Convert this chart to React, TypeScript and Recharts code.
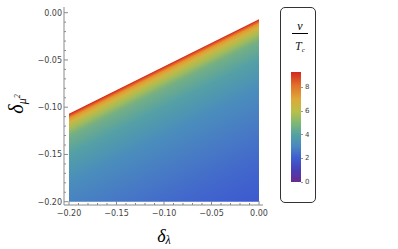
import React from "react";
import { ComposedChart, Area, XAxis, YAxis } from "recharts";

// upper edge of the region where a solution exists (delta_lambda -> delta_mu2)
const EDGE_X = [-0.2, 0.0];
const EDGE_Y = [-0.107, -0.007];
const FLOOR_Y = -0.2;

const X_TICKS = [
  -0.2, -0.19, -0.18, -0.17, -0.16, -0.15, -0.14, -0.13, -0.12, -0.11, -0.1,
  -0.09, -0.08, -0.07, -0.06, -0.05, -0.04, -0.03, -0.02, -0.01, 0,
];
const Y_TICKS = X_TICKS;
const BAR_TICKS = [0, 2, 4, 6, 8];
const BAR_MAX = 9.3;

// v/Tc colour as a function of distance from the edge
const FIELD_STOPS = [
  { o: 0, c: "#d2261f" },
  { o: 0.009, c: "#df5524" },
  { o: 0.024, c: "#e8962f" },
  { o: 0.046, c: "#cfb53f" },
  { o: 0.078, c: "#a6bc57" },
  { o: 0.12, c: "#74af84" },
  { o: 0.22, c: "#54a0a5" },
  { o: 0.38, c: "#4a8dbc" },
  { o: 0.6, c: "#4778c6" },
  { o: 0.8, c: "#4166cc" },
  { o: 1, c: "#3c59cf" },
];
const BAR_STOPS = [
  { o: 0, c: "#d2261f" },
  { o: 0.12, c: "#e2702a" },
  { o: 0.25, c: "#ddaa38" },
  { o: 0.36, c: "#b9bf48" },
  { o: 0.47, c: "#7cb778" },
  { o: 0.57, c: "#54a1a2" },
  { o: 0.68, c: "#4a86c0" },
  { o: 0.78, c: "#3e5ed0" },
  { o: 0.9, c: "#4a3cb4" },
  { o: 1, c: "#6a2a8c" },
];

const data = EDGE_X.map((x, i) => ({ x, y: EDGE_Y[i] }));

const FRAME = "#8a8a8a";
const TICK_FONT = "'DejaVu Sans', sans-serif";

const isMajor = (v: number) => Math.abs(v * 20 - Math.round(v * 20)) < 1e-6;
const fmt = (v: number) => (v < -1e-9 ? "\u2212" : "") + Math.abs(v).toFixed(2);

const BottomTick = (p: any) => {
  const v = p.payload.value;
  const major = isMajor(v);
  return (
    <g>
      <line x1={p.x} x2={p.x} y1={p.y} y2={p.y - (major ? 4 : 2)} stroke={FRAME} />
      {major && (
        <text x={p.x} y={p.y + 11} textAnchor="middle" fontSize={8} fontFamily={TICK_FONT} fill="#444">
          {fmt(v)}
        </text>
      )}
    </g>
  );
};
const TopTick = (p: any) => {
  const major = isMajor(p.payload.value);
  return <line x1={p.x} x2={p.x} y1={p.y} y2={p.y + (major ? 4 : 2)} stroke={FRAME} />;
};
const LeftTick = (p: any) => {
  const v = p.payload.value;
  const major = isMajor(v);
  return (
    <g>
      <line x1={p.x} x2={p.x + (major ? 4 : 2)} y1={p.y} y2={p.y} stroke={FRAME} />
      {major && (
        <text x={p.x - 2} y={p.y + 3} textAnchor="end" fontSize={8} fontFamily={TICK_FONT} fill="#444">
          {fmt(v)}
        </text>
      )}
    </g>
  );
};
const RightTick = (p: any) => {
  const major = isMajor(p.payload.value);
  return <line x1={p.x} x2={p.x - (major ? 4 : 2)} y1={p.y} y2={p.y} stroke={FRAME} />;
};

const axisLine = { stroke: FRAME };

export default function App() {
  return (
    <div style={{ position: "absolute", left: 0, top: 0, width: 398, height: 249, background: "#fff" }}>
      <ComposedChart width={398} height={249} data={data} margin={{ top: 7, right: 135, bottom: 0, left: 0 }}>
        <defs>
          <linearGradient id="field" x1="0.5" y1="0.26" x2="0.909" y2="1.047">
            {FIELD_STOPS.map((s) => (
              <stop key={s.o} offset={s.o} stopColor={s.c} />
            ))}
          </linearGradient>
        </defs>
        <XAxis
          dataKey="x"
          type="number"
          domain={[-0.20526, 0.00421]}
          ticks={X_TICKS}
          interval={0}
          height={44}
          tickSize={0}
          tickMargin={0}
          tickLine={false}
          axisLine={axisLine}
          tick={BottomTick}
          allowDataOverflow
        />
        <XAxis
          xAxisId="top"
          orientation="top"
          type="number"
          domain={[-0.20526, 0.00421]}
          ticks={X_TICKS}
          interval={0}
          height={0}
          tickSize={0}
          tickMargin={0}
          tickLine={false}
          axisLine={axisLine}
          tick={TopTick}
          allowDataOverflow
        />
        <YAxis
          type="number"
          domain={[-0.20349, 0.00603]}
          ticks={Y_TICKS}
          interval={0}
          width={64}
          tickSize={0}
          tickMargin={0}
          tickLine={false}
          axisLine={axisLine}
          tick={LeftTick}
          allowDataOverflow
        />
        <YAxis
          yAxisId="right"
          orientation="right"
          type="number"
          domain={[-0.20349, 0.00603]}
          ticks={Y_TICKS}
          interval={0}
          width={0}
          tickSize={0}
          tickMargin={0}
          tickLine={false}
          axisLine={axisLine}
          tick={RightTick}
          allowDataOverflow
        />
        <Area
          dataKey="y"
          type="linear"
          baseValue={FLOOR_Y}
          fill="url(#field)"
          fillOpacity={1}
          stroke="none"
          isAnimationActive={false}
        />
      </ComposedChart>

      {/* axis labels */}
      <div
        style={{
          position: "absolute",
          left: 164,
          top: 227,
          transform: "translateX(-50%)",
          fontFamily: "'Liberation Serif', serif",
          fontStyle: "italic",
          fontSize: 18,
          lineHeight: "18px",
          whiteSpace: "nowrap",
        }}
      >
        δ<span style={{ fontSize: 12, position: "relative", top: 2 }}>λ</span>
      </div>
      <div
        style={{
          position: "absolute",
          left: 18,
          top: 104,
          transform: "translate(-50%, -50%) rotate(-90deg)",
          fontFamily: "'Liberation Serif', serif",
          fontStyle: "italic",
          fontSize: 20,
          lineHeight: "20px",
          whiteSpace: "nowrap",
        }}
      >
        δ
        <span style={{ fontSize: 12, position: "relative", top: 3 }}>
          μ<span style={{ fontSize: 8, position: "relative", top: -6 }}>2</span>
        </span>
      </div>

      {/* colour legend */}
      <div
        style={{
          position: "absolute",
          left: 280,
          top: 7,
          width: 36,
          height: 196,
          border: "1px solid #333",
          borderRadius: 5,
          boxSizing: "border-box",
        }}
      />
      <div
        style={{
          position: "absolute",
          left: 292,
          top: 20,
          width: 16,
          textAlign: "center",
          fontFamily: "'Liberation Serif', serif",
          fontStyle: "italic",
          fontSize: 12,
          lineHeight: "12px",
        }}
      >
        v
      </div>
      <div style={{ position: "absolute", left: 292, top: 33, width: 16, height: 1, background: "#000" }} />
      <div
        style={{
          position: "absolute",
          left: 292,
          top: 40,
          width: 16,
          textAlign: "center",
          fontFamily: "'Liberation Serif', serif",
          fontStyle: "italic",
          fontSize: 12,
          lineHeight: "12px",
          color: "#222",
        }}
      >
        T<span style={{ fontSize: 7, position: "relative", top: 2 }}>c</span>
      </div>
      <div
        style={{
          position: "absolute",
          left: 291,
          top: 72,
          width: 10,
          height: 110,
          background: `linear-gradient(to bottom, ${BAR_STOPS.map((s) => `${s.c} ${s.o * 100}%`).join(", ")})`,
        }}
      />
      {BAR_TICKS.map((t) => {
        const yy = 182 - (t / BAR_MAX) * 110;
        return (
          <React.Fragment key={t}>
            <div style={{ position: "absolute", left: 301, top: yy - 0.5, width: 2, height: 1, background: "#999" }} />
            <div
              style={{
                position: "absolute",
                left: 305,
                top: yy - 4,
                fontFamily: TICK_FONT,
                fontSize: 7,
                lineHeight: "8px",
                color: "#444",
              }}
            >
              {t}
            </div>
          </React.Fragment>
        );
      })}
    </div>
  );
}
